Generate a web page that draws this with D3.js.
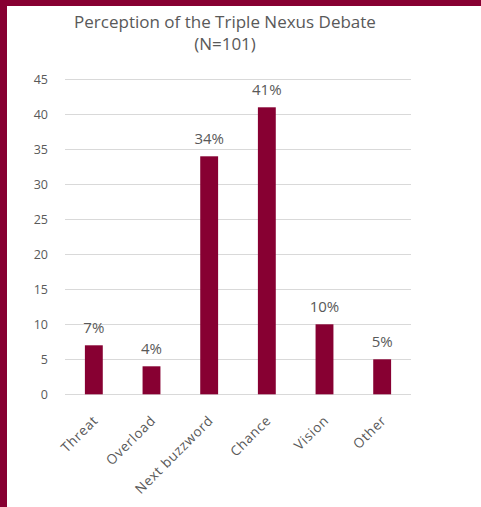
<!DOCTYPE html>
<html>
<head>
<meta charset="utf-8">
<script src="https://cdn.jsdelivr.net/npm/d3@7"></script>
<style>
  html, body { margin: 0; padding: 0; background: #fff; }
  svg { display: block; }
  text { font-family: "Open Sans", "Noto Sans", sans-serif; fill: #595959; }
</style>
</head>
<body>
<svg id="chart" width="481" height="507"></svg>
<script>
// Survey answers: share of respondents per perception category
const categories = ["Threat", "Overload", "Next buzzword", "Chance", "Vision", "Other"];
const values = [7, 4, 34, 41, 10, 5];
const valueLabels = ["7%", "4%", "34%", "41%", "10%", "5%"];
const yTicks = [0, 5, 10, 15, 20, 25, 30, 35, 40, 45];
const titleLines = ["Perception of the Triple Nexus Debate", "(N=101)"];

const W = 481, H = 507;
const accent = "#870032";
const svg = d3.select("#chart");

// frame stripes on the left and top edge
svg.append("rect").attr("x", 0).attr("y", 0).attr("width", W).attr("height", 6).attr("fill", accent);
svg.append("rect").attr("x", 0).attr("y", 0).attr("width", 7).attr("height", H).attr("fill", accent);

const plot = { left: 65, right: 411, top: 79.3, bottom: 394.3 };

const x = d3.scaleBand().domain(categories).range([plot.left, plot.right]).paddingInner(0.69).paddingOuter(0.345);
const y = d3.scaleLinear().domain([0, 45]).range([plot.bottom, plot.top]);

// horizontal gridlines
svg.append("g").selectAll("line").data(yTicks).join("line")
  .attr("x1", plot.left).attr("x2", plot.right)
  .attr("y1", d => Math.round(y(d)) + 0.5).attr("y2", d => Math.round(y(d)) + 0.5)
  .attr("stroke", "#d9d9d9").attr("stroke-width", 1);

// value axis labels
const yAxis = d3.axisLeft(y).tickValues(yTicks).tickSize(0).tickPadding(0);
const gy = svg.append("g").attr("transform", `translate(${48},0)`).call(yAxis);
gy.select(".domain").remove();
gy.selectAll("text").attr("font-size", 12.5).attr("fill", "#595959")
  .style("font-family", "\"Open Sans\", sans-serif").attr("dy", "0.35em");

// bars
svg.append("g").selectAll("rect").data(values).join("rect")
  .attr("x", (d, i) => x(categories[i]))
  .attr("y", d => y(d))
  .attr("width", x.bandwidth())
  .attr("height", d => y(0) - y(d))
  .attr("fill", accent);

// value labels above bars
svg.append("g").selectAll("text").data(values).join("text")
  .attr("x", (d, i) => x(categories[i]) + x.bandwidth() / 2)
  .attr("y", d => y(d) - 12)
  .attr("text-anchor", "middle")
  .attr("font-size", 15)
  .text((d, i) => valueLabels[i]);

// rotated category labels
const xAxis = d3.axisBottom(x).tickSize(0).tickPadding(0);
const gx = svg.append("g").attr("transform", `translate(0,${plot.bottom})`).call(xAxis);
gx.select(".domain").remove();
gx.selectAll("text")
  .attr("font-size", 13.5)
  .attr("letter-spacing", 0.7)
  .attr("fill", "#595959")
  .style("font-family", "\"Open Sans\", sans-serif")
  .attr("text-anchor", "end")
  .attr("dy", null)
  .attr("y", 0)
  .attr("transform", "translate(5,27) rotate(-45)");

// chart title
svg.append("g").selectAll("text").data(titleLines).join("text")
  .attr("x", 225)
  .attr("y", (d, i) => 28 + i * 22)
  .attr("text-anchor", "middle")
  .attr("font-size", 17)
  .text(d => d);
</script>
</body>
</html>
